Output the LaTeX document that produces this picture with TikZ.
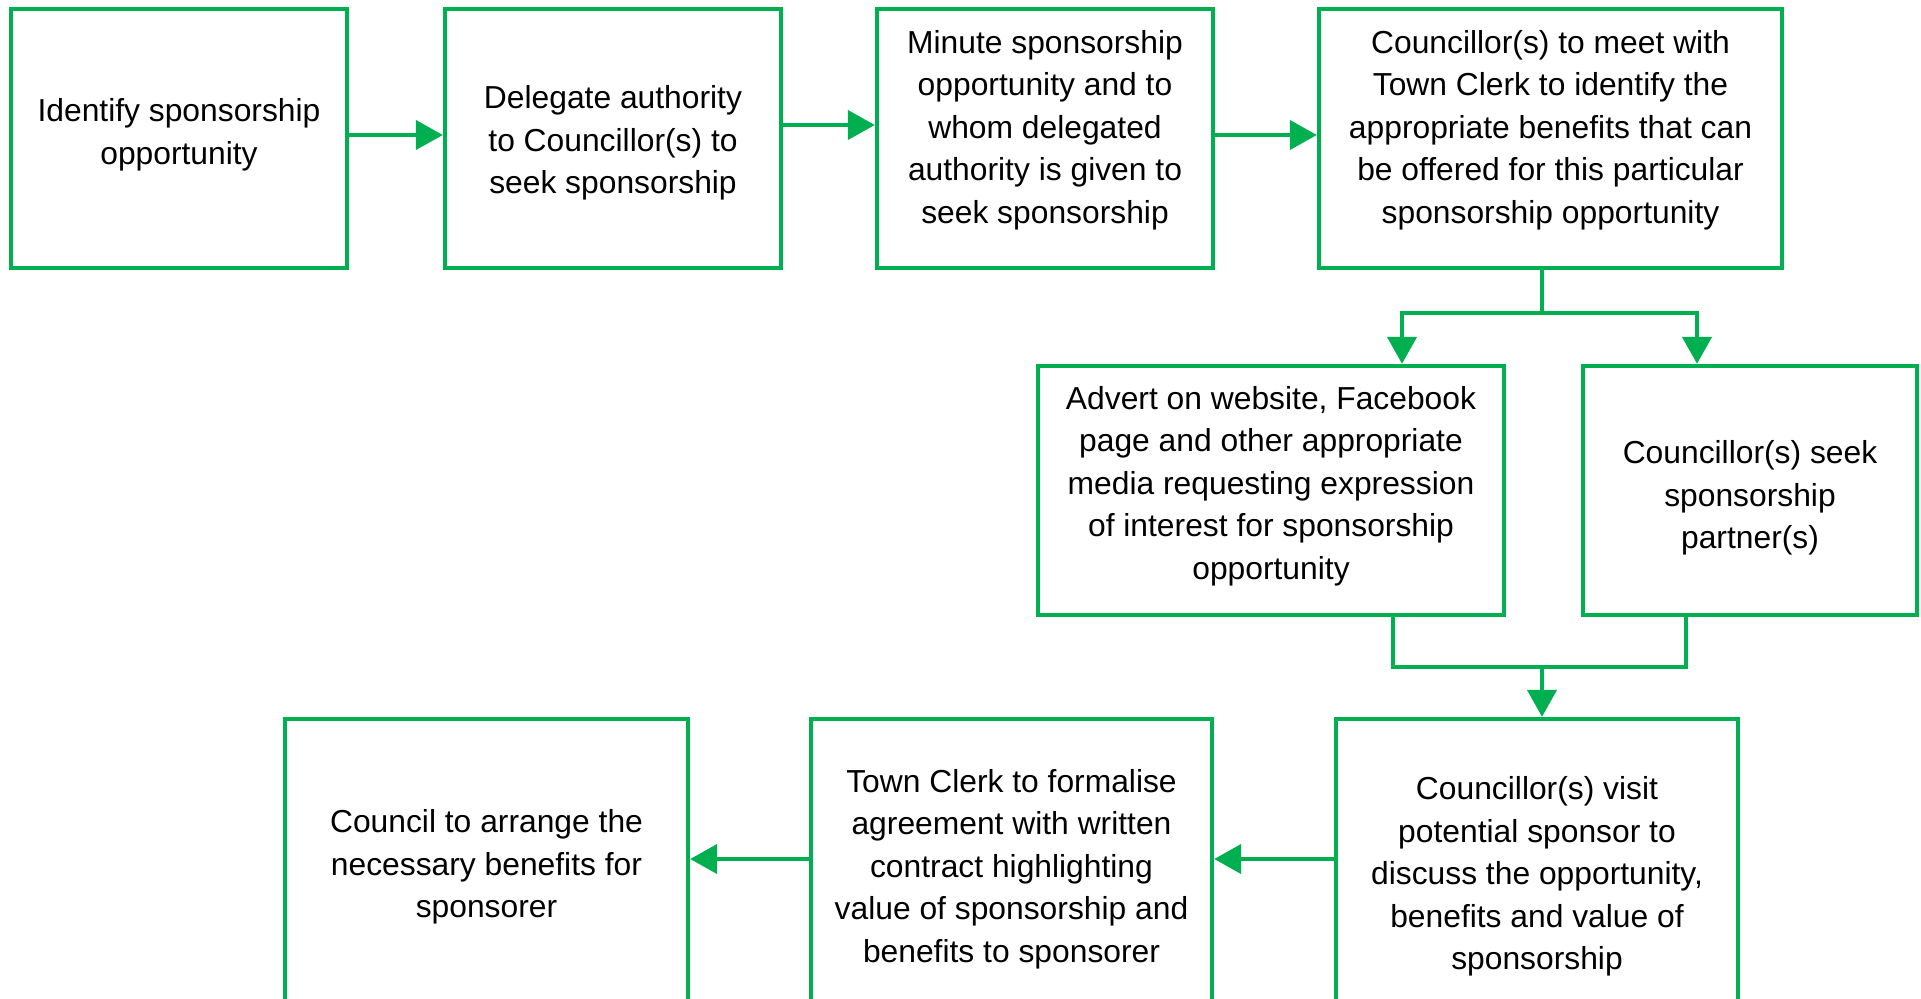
\documentclass[tikz,border=0pt]{standalone}
\usepackage{fontspec}
\setmainfont{Liberation Sans}
\usetikzlibrary{arrows.meta}
\definecolor{grn}{HTML}{00B050}
\begin{document}
\begin{tikzpicture}[x=1pt,y=1pt,
  box/.style={draw=grn, line width=4.3pt, rectangle, inner sep=0pt},
  txt/.style={align=center, inner sep=0pt, yshift=-3pt, font=\fontsize{31.8}{42.6}\selectfont},
  link/.style={draw=grn, line width=4.3pt},
  conn/.style={draw=grn, line width=4.3pt, -{Triangle[length=27pt,width=29pt]}}]
\useasboundingbox (0,0) rectangle (1921,-998);
\begin{scope}
\clip (0,0) rectangle (1921,-998);
% boxes
\node[box, minimum width=336pt, minimum height=259pt] (b1) at (179,-138.5) {};
\node[box, minimum width=336pt, minimum height=259pt] (b2) at (613,-138.5) {};
\node[box, minimum width=336pt, minimum height=259pt] (b3) at (1045,-138.5) {};
\node[box, minimum width=463pt, minimum height=259pt] (b4) at (1550.5,-138.5) {};
\node[box, minimum width=466pt, minimum height=249pt] (b5) at (1271,-490.5) {};
\node[box, minimum width=334pt, minimum height=249pt] (b6) at (1750,-490.5) {};
\node[box, minimum width=403pt, minimum height=291pt] (b7) at (486.5,-864.5) {};
\node[box, minimum width=401pt, minimum height=291pt] (b8) at (1011.5,-864.5) {};
\node[box, minimum width=402pt, minimum height=291pt] (b9) at (1537,-864.5) {};
% texts
\node[txt] (t1) at (179,-132) {Identify sponsorship\\opportunity};
\node[txt] (t2) at (613,-140) {Delegate authority\\to Councillor(s) to\\seek sponsorship};
\node[txt] (t3) at (1045,-127) {Minute sponsorship\\opportunity and to\\whom delegated\\authority is given to\\seek sponsorship};
\node[txt] (t4) at (1550.5,-127) {Councillor(s) to meet with\\Town Clerk to identify the\\appropriate benefits that can\\be offered for this particular\\sponsorship opportunity};
\node[txt] (t5) at (1271,-483) {Advert on website, Facebook\\page and other appropriate\\media requesting expression\\of interest for sponsorship\\opportunity};
\node[txt] (t6) at (1750,-495) {Councillor(s) seek\\sponsorship\\partner(s)};
\node[txt] (t7) at (486.5,-864) {Council to arrange the\\necessary benefits for\\sponsorer};
\node[txt] (t8) at (1011.5,-866) {Town Clerk to formalise\\agreement with written\\contract highlighting\\value of sponsorship and\\benefits to sponsorer};
\node[txt] (t9) at (1537,-873.5) {Councillor(s) visit\\potential sponsor to\\discuss the opportunity,\\benefits and value of\\sponsorship};
% connectors top row
\draw[conn] ([yshift=3.5pt]b1.east) -- ([yshift=3.5pt]b2.west);
\draw[conn] ([yshift=13.5pt]b2.east) -- ([yshift=13.5pt]b3.west);
\draw[conn] ([yshift=3.5pt]b3.east) -- ([yshift=3.5pt]b4.west);
% split
\coordinate (s1) at (1402,-313);
\coordinate (s2) at (1697,-313);
\draw[conn] ([xshift=-8.5pt]b4.south) |- (s1) -- (s1 |- b5.north);
\draw[conn] ([xshift=-8.5pt]b4.south) |- (s2) -- (s2 |- b6.north);
% merge
\coordinate (m) at (1542,-667);
\draw[link] ([xshift=122pt]b5.south) |- (m);
\draw[link] ([xshift=-64pt]b6.south) |- (m);
\draw[conn] (m) -- (m |- b9.north);
% bottom row
\draw[conn] ([yshift=5.5pt]b9.west) -- ([yshift=5.5pt]b8.east);
\draw[conn] ([yshift=5.5pt]b8.west) -- ([yshift=5.5pt]b7.east);
\end{scope}
\end{tikzpicture}
\end{document}
